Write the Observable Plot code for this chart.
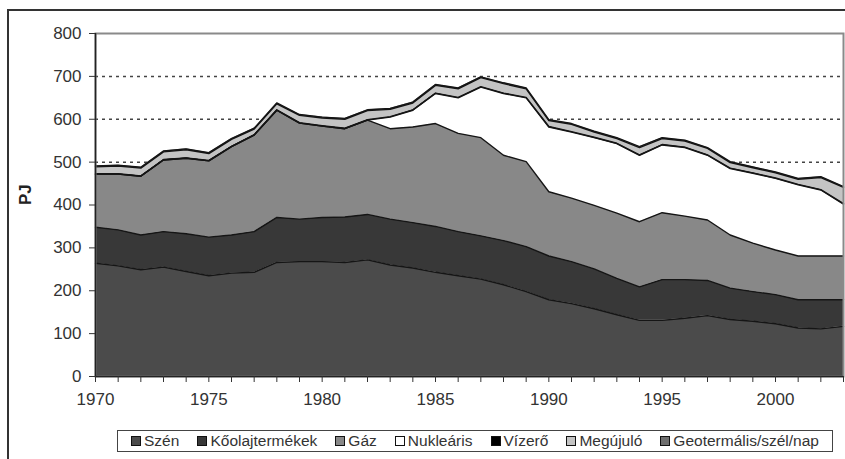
<!DOCTYPE html>
<html>
<head>
<meta charset="utf-8">
<script src="https://cdn.jsdelivr.net/npm/d3@7"></script>
<script src="https://cdn.jsdelivr.net/npm/@observablehq/plot@0.6"></script>
<style>
  html, body { margin: 0; padding: 0; background: #fff; width: 845px; height: 459px; overflow: hidden; position: relative; font-family: "Liberation Sans", Arial, sans-serif; }
  #outer { position: absolute; left: 7px; top: 9px; width: 850px; height: 460px; border-left: 2px solid #333; border-top: 2px solid #333; }
  #chart { position: absolute; left: 0; top: 0; }
  #legend { position: absolute; left: 117px; top: 430px; width: 706px; height: 20px; border: 1.5px solid #444; background: #fff;
            display: flex; align-items: center; justify-content: space-around; font-size: 15.5px; color: #333; padding: 0 4px; box-sizing: content-box; }
  .item { display: flex; align-items: center; white-space: nowrap; }
  .sw { width: 8px; height: 8px; border: 1px solid #111; margin-right: 3px; display: inline-block; }
</style>
</head>
<body>
<div id="outer"></div>
<div id="chart"></div>
<div id="legend"></div>
<script>
const years = d3.range(1970, 2004);
const seriesNames = ["Szén", "Kőolajtermékek", "Gáz", "Nukleáris", "Vízerő", "Megújuló", "Geotermális/szél/nap"];
const seriesColors = ["#4b4b4b", "#383838", "#888888", "#ffffff", "#000000", "#c4c4c4", "#6e6e6e"];
const yTicks = [0, 100, 200, 300, 400, 500, 600, 700, 800];
const gridValues = [100, 200, 300, 400, 500, 600, 700];

const szen = [264, 258, 249, 255, 245, 235, 241, 243, 266, 268, 268, 266, 272, 260, 253, 243, 235, 227, 214, 198, 179, 170, 158, 144, 131, 131, 136, 142, 133, 129, 123, 113, 111, 117];
const koolaj = [84, 84, 81, 83, 88, 90, 89, 95, 105, 99, 103, 106, 106, 107, 106, 107, 103, 101, 103, 105, 102, 98, 93, 85, 78, 95, 90, 82, 73, 69, 68, 66, 68, 62];
const gaz = [124, 130, 137, 167, 176, 178, 206, 225, 250, 224, 213, 206, 220, 211, 223, 240, 229, 229, 199, 198, 150, 148, 148, 152, 152, 156, 148, 141, 124, 113, 104, 102, 102, 102];
const nuklearis = [0, 0, 0, 0, 0, 0, 0, 0, 0, 0, 0, 0, 0, 27, 39, 70, 83, 118, 144, 149, 151, 154, 158, 162, 155, 158, 160, 151, 155, 163, 167, 166, 154, 121];
const vizero = [1, 1, 1, 1, 1, 1, 1, 1, 1, 1, 1, 1, 1, 1, 1, 1, 1, 1, 1, 1, 1, 1, 1, 1, 1, 1, 1, 1, 1, 1, 1, 1, 1, 1];
const megujulo = [16, 18, 18, 18, 19, 16, 16, 13, 14, 17, 18, 21, 21, 17, 16, 18, 20, 21, 22, 20, 14, 17, 12, 11, 17, 14, 14, 15, 13, 12, 12, 12, 28, 38];
const geo = [2, 2, 2, 2, 2, 2, 2, 2, 2, 2, 2, 2, 2, 2, 2, 2, 2, 2, 2, 2, 2, 2, 2, 2, 2, 2, 2, 2, 2, 2, 2, 2, 2, 2];

const seriesValues = [szen, koolaj, gaz, nuklearis, vizero, megujulo, geo];
const rows = [];
years.forEach((yr, i) => seriesValues.forEach((arr, j) => rows.push({year: yr, series: seriesNames[j], value: arr[i]})));

const chart = Plot.plot({
  width: 845,
  height: 425,
  marginLeft: 95,
  marginRight: 2,
  marginTop: 33,
  marginBottom: 49,
  x: {domain: [1970, 2003]},
  y: {domain: [0, 800]},
  color: {domain: seriesNames, range: seriesColors},
  style: {fontFamily: "'Liberation Sans', Arial, sans-serif", fontSize: "17px", color: "#333", background: "transparent"},
  marks: [
    Plot.frame({fill: "#fff", stroke: null}),
    Plot.gridY(gridValues, {stroke: "#444", strokeOpacity: 1, strokeWidth: 1.5, strokeDasharray: "3,4"}),
    Plot.areaY(rows, Plot.stackY({x: "year", y: "value", z: "series", fill: "series", order: seriesNames})),
    Plot.lineY(rows, Plot.stackY2({x: "year", y: "value", z: "series", order: seriesNames, stroke: "#151515", strokeWidth: 1.4})),
    Plot.frame({stroke: "#8a8a8a", strokeWidth: 2}),
    Plot.ruleY([0], {stroke: "#222", strokeWidth: 1.5}),
    Plot.ruleX([1970], {stroke: "#222", strokeWidth: 1.5}),
    Plot.axisY({ticks: yTicks, tickSize: 6, tickPadding: 8, tickFormat: d => String(d), label: null}),
    Plot.axisX({ticks: years, tickSize: 6, tickPadding: 10, tickFormat: d => d % 5 === 0 ? String(d) : "", label: null}),
    Plot.text(["PJ"], {frameAnchor: "left", dx: -70, rotate: -90, fontWeight: "bold", fontSize: 17, fill: "#222"})
  ]
});
document.getElementById("chart").appendChild(chart);

const legend = document.getElementById("legend");
seriesNames.forEach((name, i) => {
  const item = document.createElement("span");
  item.className = "item";
  const sw = document.createElement("span");
  sw.className = "sw";
  sw.style.background = seriesColors[i];
  item.appendChild(sw);
  item.appendChild(document.createTextNode(name));
  legend.appendChild(item);
});
</script>
</body>
</html>
